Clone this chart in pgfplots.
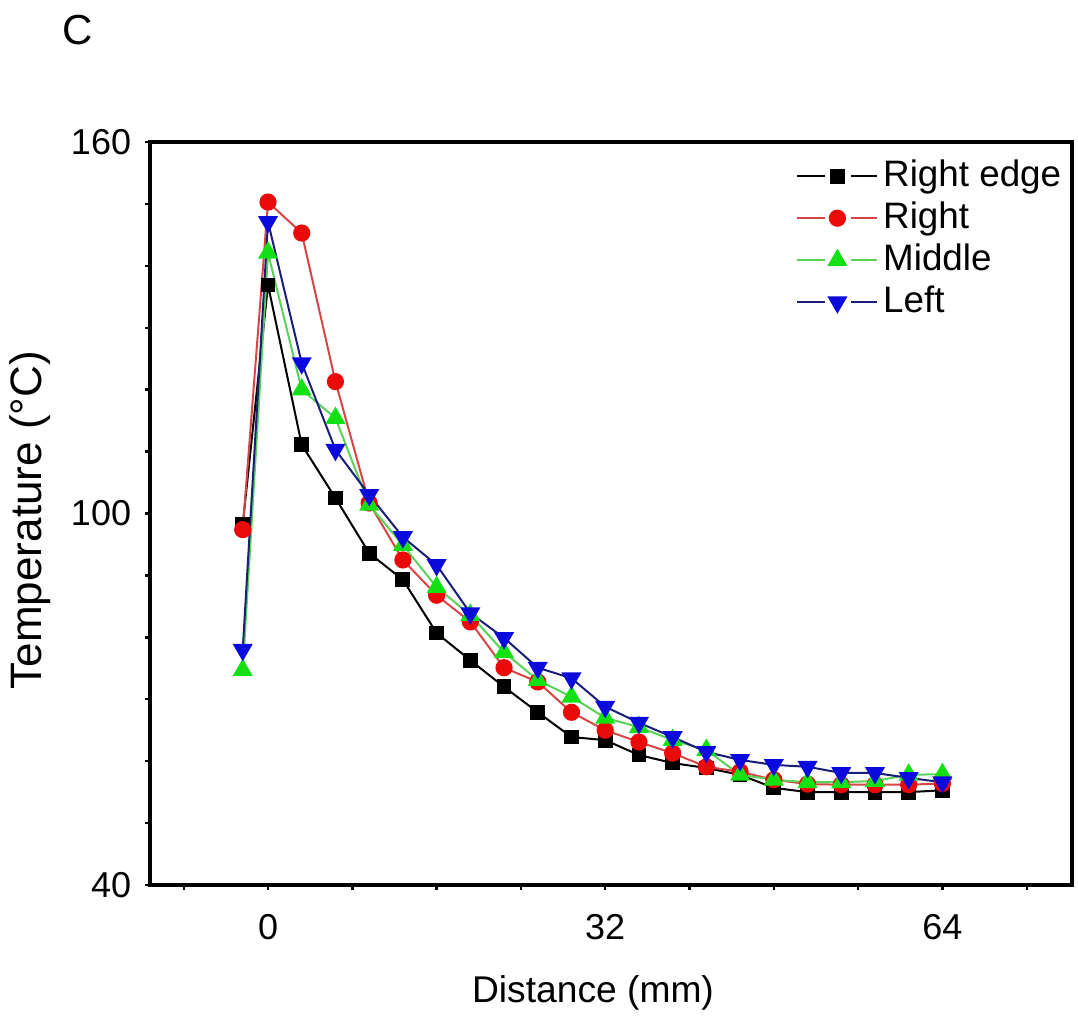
\documentclass[border=0pt]{standalone}
\usepackage{fontspec}
\setmainfont{Liberation Sans}
\usepackage{pgfplots}
\pgfplotsset{compat=1.18}
\usetikzlibrary{calc}
\definecolor{mkred}{RGB}{235,10,10}
\definecolor{lnred}{RGB}{215,70,70}
\definecolor{mkgreen}{RGB}{20,225,20}
\definecolor{lngreen}{RGB}{90,210,90}
\definecolor{mkblue}{RGB}{10,10,220}
\definecolor{lnblue}{RGB}{25,30,120}

\pgfplotstableread{
x y
-2.4 98.2
0 136.9
3.2 111.1
6.4 102.5
9.6 93.6
12.8 89.3
16 80.7
19.2 76.3
22.4 72.0
25.6 67.9
28.8 63.9
32 63.4
35.2 61.0
38.4 59.7
41.6 58.9
44.8 57.8
48 55.7
51.2 55.0
54.4 55.0
57.6 55.0
60.8 55.0
64 55.3
}\rightedge
\pgfplotstableread{
x y
-2.4 97.4
0 150.3
3.2 145.3
6.4 121.3
9.6 101.7
12.8 92.5
16 86.8
19.2 82.5
22.4 75.1
25.6 72.8
28.8 67.9
32 65.0
35.2 63.1
38.4 61.3
41.6 59.1
44.8 58.3
48 57.0
51.2 56.3
54.4 56.2
57.6 56.2
60.8 56.2
64 56.4
}\right
\pgfplotstableread{
x y
-2.4 74.7
0 142.1
3.2 120.0
6.4 115.4
9.6 101.4
12.8 94.9
16 88.1
19.2 83.6
22.4 77.6
25.6 73.1
28.8 70.4
32 67.0
35.2 65.5
38.4 63.4
41.6 61.8
44.8 57.8
48 57.0
51.2 56.6
54.4 56.6
57.6 56.8
60.8 57.8
64 57.9
}\middle
\pgfplotstableread{
x y
-2.4 78.0
0 147.1
3.2 124.3
6.4 110.3
9.6 103.0
12.8 96.2
16 91.7
19.2 83.9
22.4 79.9
25.6 75.1
28.8 73.4
32 68.8
35.2 66.2
38.4 63.9
41.6 61.5
44.8 60.2
48 59.4
51.2 59.1
54.4 58.1
57.6 58.1
60.8 57.3
64 56.6
}\left

\begin{document}
\begin{tikzpicture}
\begin{axis}[name=ax, scale only axis, width=230.5pt, height=185.75pt,
  xmin=-11.2, xmax=76.3, ymin=40, ymax=160,
  xtick={0,32,64}, ytick={40,100,160},
  minor xtick={-8,8,16,24,40,48,56,72},
  minor ytick={50,60,70,80,90,110,120,130,140,150},
  xtick pos=bottom, ytick pos=left, tick align=outside,
  major tick length=1.2pt, minor tick length=1.2pt,
  tick style={black, line width=0.6pt},
  axis line style={line width=0.8pt},
  /pgf/number format/assume math mode=true,
  ticklabel style={font=\fontsize{9}{10.8}\selectfont},
  xticklabel style={yshift=-2.5pt},
  xlabel={Distance (mm)},
  ylabel={Temperature (°C)},
  xlabel style={font=\fontsize{9.3}{11}\selectfont, at={(axis description cs:0.4805,-0.145)}, anchor=center},
  ylabel style={font=\fontsize{11}{13}\selectfont, at={(axis description cs:-0.130,0.491)}, anchor=center, rotate=0},
  legend style={at={(rel axis cs:1,1)}, anchor=north east, draw=none, fill=none,
    xshift=-1.3pt, yshift=-3.1pt,
    font=\fontsize{9.2}{11}\selectfont, row sep=0pt, inner sep=0pt,
    nodes={inner xsep=1.2pt, inner ysep=0.9pt, text height=6.8pt, text depth=1.9pt}},
  legend cell align=left,
  legend image code/.code={
    \draw[#1] (0pt,0pt) -- (7pt,0pt);
    \draw[#1] (13.5pt,0pt) -- (20pt,0pt);
    \draw[#1] plot[only marks] coordinates {(10pt,0pt)};
  },
]
\addplot[color=black, line width=0.5pt, mark=square*, mark size=1.6pt, mark options={solid, fill=black, draw=black}] table[x=x,y=y] {\rightedge};
\addlegendentry{Right edge}
\addplot[color=lnred, line width=0.5pt, mark=*, mark size=1.9pt, mark options={solid, fill=mkred, draw=mkred}] table[x=x,y=y] {\right};
\addlegendentry{Right}
\addplot[color=lngreen, line width=0.5pt, mark=triangle*, mark size=2.4pt, mark options={solid, fill=mkgreen, draw=mkgreen}] table[x=x,y=y] {\middle};
\addlegendentry{Middle}
\addplot[color=lnblue, line width=0.5pt, mark=triangle*, mark size=2.4pt, mark options={solid, fill=mkblue, draw=mkblue, rotate=180}] table[x=x,y=y] {\left};
\addlegendentry{Left}
\end{axis}
\node[font=\fontsize{10.5}{12}\selectfont] at ($(ax.north west)+(-18pt,28pt)$) {C};
\pgfresetboundingbox
\path[use as bounding box] ($(ax.south west)+(-37.5pt,-33.75pt)$) rectangle ($(ax.north east)+(1.5pt,35.5pt)$);
\end{tikzpicture}
\end{document}
